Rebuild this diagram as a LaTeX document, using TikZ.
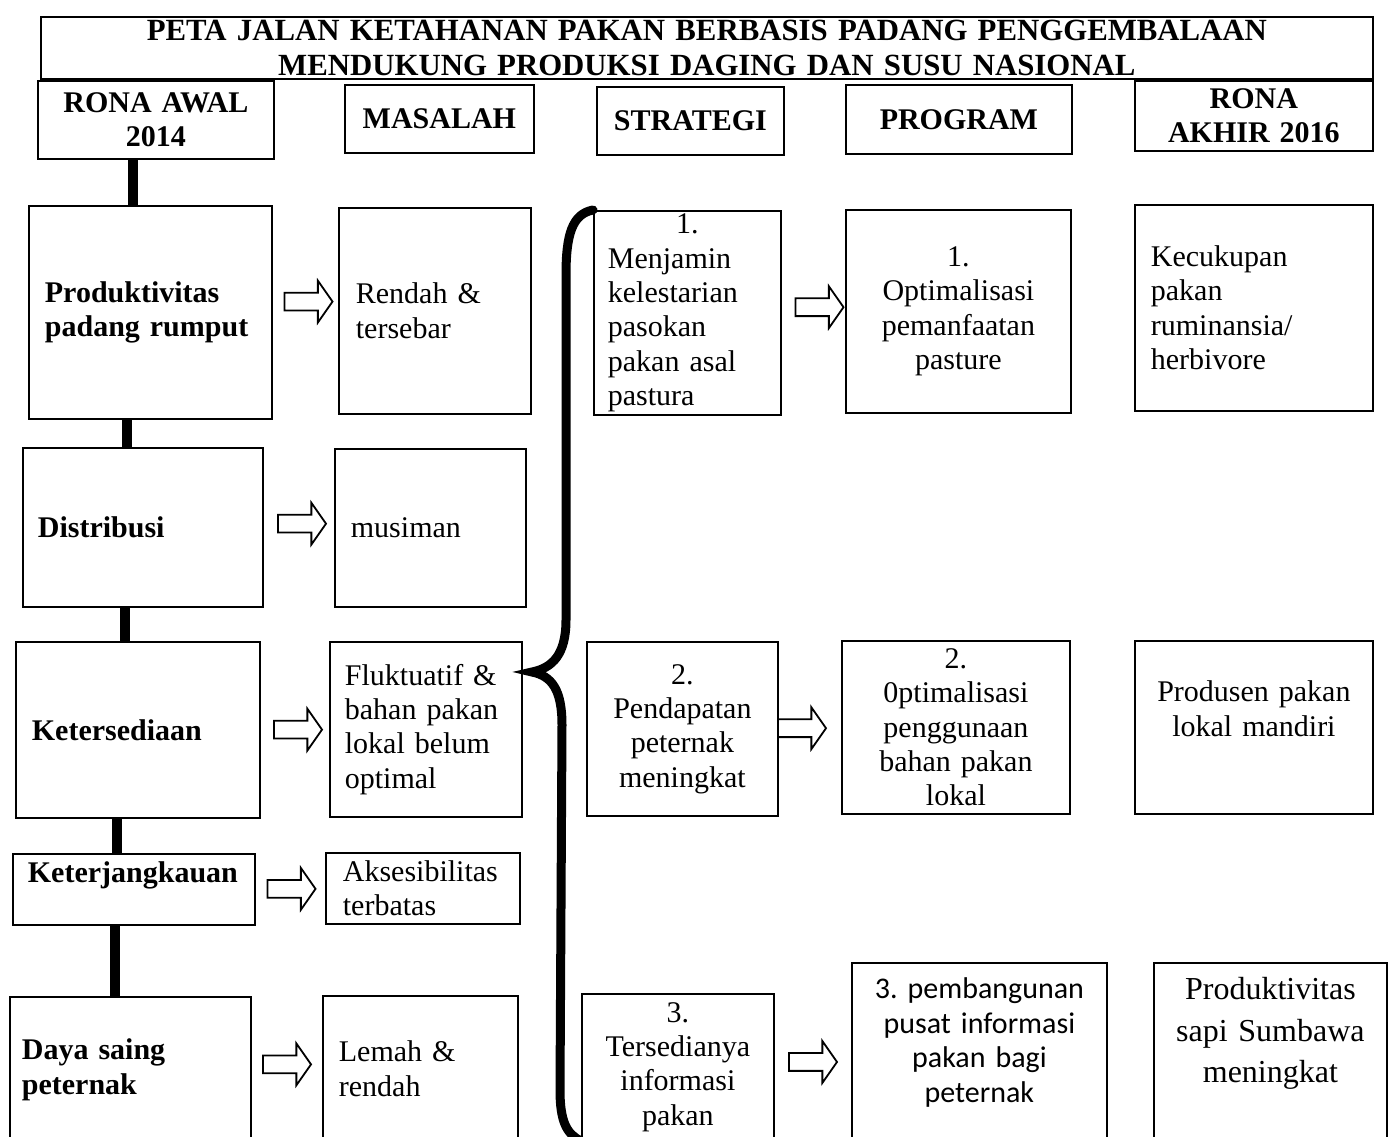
\documentclass[tikz,border=0pt]{standalone}
\usepackage{fontspec}
\setmainfont{Liberation Serif}
\newfontfamily\calibri{Carlito}
\usetikzlibrary{shapes.arrows}
\newcommand\teks{\fontsize{15}{17.2}\selectfont}

\begin{document}
\begin{tikzpicture}[x=0.5pt,y=-0.5pt]
		\tikzstyle{kotak} = [rectangle, draw=black, line width=0.9pt, inner sep=0pt, anchor=north west, font=\teks]
		\tikzstyle{kepala} = [kotak, font=\teks\bfseries, align=center]
		\tikzstyle{rona} = [kotak, font=\teks\bfseries, align=left]
		\tikzstyle{isi} = [kotak, align=left]
		\tikzstyle{tengah} = [kotak, align=center]
		\tikzstyle{panah} = [single arrow, draw=black, line width=0.9pt, fill=white, minimum height=24pt, inner sep=4pt, single arrow head extend=6pt, single arrow tip angle=110]
		\tikzstyle{tiang} = [line width=5pt]
		\tikzstyle{kurung} = [line width=4.5pt, line cap=round]
		
		\path[use as bounding box, fill=white] (0,0) rectangle (1393,1136);
		
		% judul dan kepala kolom
		\node (judul) [kepala, text width=666pt, minimum height=31pt, font=\fontsize{15.4}{17.5}\selectfont\bfseries] at (40,16) {PETA JALAN KETAHANAN PAKAN BERBASIS PADANG PENGGEMBALAAN\\MENDUKUNG PRODUKSI DAGING DAN SUSU NASIONAL};
		\node (hRonaAwal) [kepala, text width=118pt, minimum height=39pt] at (37,80) {RONA AWAL\\2014};
		\node (hMasalah) [kepala, text width=94.5pt, minimum height=34pt] at (344,84) {MASALAH};
		\node (hStrategi) [kepala, text width=93.5pt, minimum height=34pt] at (596,86) {STRATEGI};
		\node (hProgram) [kepala, text width=113pt, minimum height=34.5pt] at (845,84) {PROGRAM};
		\node (hRonaAkhir) [kepala, text width=119pt, minimum height=35pt] at (1134,80) {RONA\\AKHIR 2016};
		
		% rona awal
		\node (produktivitas) [rona, text width=105.5pt, inner xsep=8pt, minimum height=106.5pt] at (28,205) {Produktivitas\\padang rumput};
		\node (distribusi) [rona, text width=105pt, inner xsep=7.5pt, minimum height=79.5pt] at (22,447) {Distribusi};
		\node (ketersediaan) [rona, text width=106pt, inner xsep=8pt, minimum height=88pt] at (15,641) {Ketersediaan};
		\node (keterjangkauan) [rona, text width=106pt, inner xsep=7.5pt, text height=14.5pt, text depth=21pt] at (12,853) {Keterjangkauan};
		\node (dayaSaing) [rona, text width=108.5pt, inner xsep=6pt, minimum height=73pt] at (9,996) {Daya saing\\peternak};
		
		% masalah
		\node (rendah) [isi, text width=79pt, inner xsep=8.5pt, minimum height=103pt] at (338,207) {Rendah \&\\tersebar};
		\node (musiman) [isi, text width=79.5pt, inner xsep=8pt, minimum height=79pt] at (334,448) {musiman};
		\node (fluktuatif) [isi, text width=81pt, inner xsep=7.5pt, minimum height=87.5pt] at (329,641) {Fluktuatif \&\\bahan pakan\\lokal belum\\optimal};
		\node (aksesibilitas) [isi, text width=80pt, inner xsep=8.5pt, minimum height=35.5pt] at (325,852) {Aksesibilitas\\terbatas};
		\node (lemah) [isi, text width=81.5pt, inner xsep=8pt, minimum height=73pt] at (322,995) {Lemah \&\\rendah};
		
		% strategi
		\node (strategi1) [isi, text width=79.5pt, inner xsep=7pt, minimum height=102pt] at (593,210) {\makebox[\linewidth]{1.}\\Menjamin\\kelestarian\\pasokan\\pakan asal\\pastura};
		\node (strategi2) [tengah, text width=95.5pt, minimum height=87pt] at (586,641) {2.\\Pendapatan\\peternak\\meningkat};
		\node (strategi3) [tengah, text width=96pt, minimum height=73pt] at (581,993) {3.\\Tersedianya\\informasi\\pakan};
		
		% program
		\node (program1) [tengah, text width=112.5pt, minimum height=101.5pt] at (845,209) {1.\\Optimalisasi\\pemanfaatan\\pasture};
		\node (program2) [tengah, text width=114pt, minimum height=86.5pt] at (841,640) {2.\\0ptimalisasi\\penggunaan\\bahan pakan\\lokal};
		\node (program3) [tengah, text width=127.5pt, text height=18pt, text depth=75pt, font=\calibri\teks] at (851,962) {3.\ pembangunan\\pusat informasi\\pakan bagi\\peternak};
		
		% rona akhir
		\node (akhir1) [isi, text width=103pt, inner xsep=8pt, minimum height=103pt] at (1134,204) {Kecukupan\\pakan\\ruminansia/\\herbivore};
		\node (akhir2) [tengah, text width=119pt, text height=30.5pt, text depth=56pt] at (1134,640) {Produsen pakan\\lokal mandiri};
		\node (akhir3) [tengah, text width=116.5pt, text height=18.5pt, text depth=75pt, font=\fontsize{16}{20.7}\selectfont] at (1153,962) {Produktivitas\\sapi Sumbawa\\meningkat};
		
		% tiang rona awal
		\draw [tiang] (hRonaAwal.south -| 133,0) -- (produktivitas.north -| 133,0);
		\draw [tiang] (produktivitas.south -| 127,0) -- (distribusi.north -| 127,0);
		\draw [tiang] (distribusi.south -| 125,0) -- (ketersediaan.north -| 125,0);
		\draw [tiang] (ketersediaan.south -| 117,0) -- (keterjangkauan.north -| 117,0);
		\draw [tiang] (keterjangkauan.south -| 115,0) -- (dayaSaing.north -| 115,0);
		
		% panah
		\path (produktivitas) -- (rendah) node (panahA) [panah, midway, yshift=5pt] {};
		\path (distribusi) -- (musiman) node (panahB) [panah, midway, yshift=2pt] {};
		\path (ketersediaan) -- (fluktuatif) node (panahC) [panah, midway] {};
		\path (keterjangkauan) -- (aksesibilitas) node (panahD) [panah, midway, xshift=-1pt] {};
		\path (dayaSaing) -- (lemah) node (panahE) [panah, midway, xshift=-1.5pt, yshift=2.5pt] {};
		\path (strategi1) -- (program1) node (panahF) [panah, midway, xshift=1.5pt, yshift=2.5pt] {};
		\path (strategi2) -- (program2) node (panahG) [panah, midway, xshift=-5.5pt] {};
		\path (strategi3) -- (program3) node (panahH) [panah, midway, xshift=-1.5pt] {};
		
		% kurung kurawal strategi
		\draw [kurung] (strategi1.north west) .. controls (572,214) and (566,235) .. (566,275) -- (566,620) .. controls (566,655) and (552,668) .. (532,672) .. controls (552,676) and (562,690) .. (562,725) -- (560,1090) .. controls (560,1120) and (566,1134) .. (strategi3.south west);
	
	\end{tikzpicture}
\end{document}
